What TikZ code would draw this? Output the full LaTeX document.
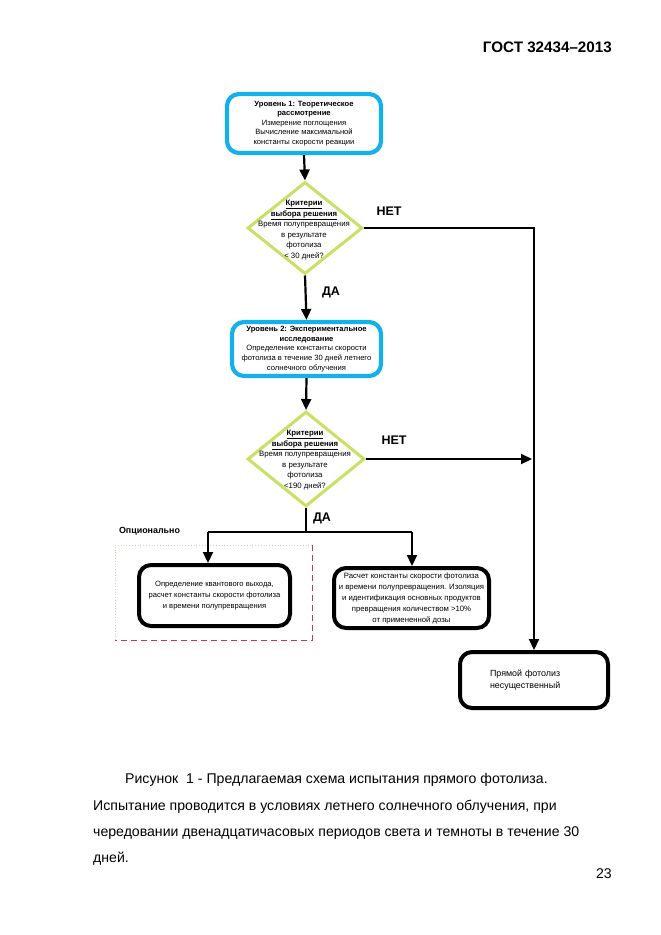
\documentclass[tikz,border=0pt]{standalone}
\usepackage{fontspec}
\setmainfont{Liberation Sans}
\usetikzlibrary{shapes.geometric,arrows.meta,positioning}
\definecolor{levelblue}{RGB}{20,176,236}
\definecolor{critgreen}{RGB}{200,224,100}
\definecolor{optred}{RGB}{200,55,70}
\definecolor{optfaint}{RGB}{215,212,190}
\tikzset{
  levelbox/.style={draw=levelblue, line width=4.2pt, rounded corners=12pt, align=center, inner sep=1pt,
    font=\fontsize{7.6}{9.6}\selectfont},
  critdiamond/.style={draw=critgreen, diamond, line width=3pt, inner sep=0pt},
  crittext/.style={align=center, inner sep=0pt, font=\fontsize{7.8}{10.6}\selectfont},
  resultbox/.style={draw=black, line width=4pt, rounded corners=12pt, align=center, inner sep=1pt,
    font=\fontsize{7.7}{11}\selectfont},
  flow/.style={line width=2.2pt, -{Triangle[width=10pt,length=11pt]}},
  link/.style={line width=2.2pt},
  answer/.style={font=\fontsize{12.5}{12.5}\selectfont\bfseries},
  captionline/.style={anchor=base west, inner sep=0pt, font=\fontsize{14.1}{14.1}\selectfont},
}
\begin{document}
\begin{tikzpicture}[x=1pt,y=-1pt]
  \fill[white] (0,0) rectangle (661,935);
  \useasboundingbox (0,0) rectangle (661,935);
  % page header
  \node[anchor=base east, inner sep=0pt, font=\fontsize{15.2}{15.2}\selectfont\bfseries] (header) at (612,52.5) {ГОСТ 32434--2013};

  % level 1 and first criterion
  \node[levelbox, minimum width=154pt, minimum height=59pt] (level1) at (304,123.5)
    {\textbf{Уровень 1: Теоретическое}\\\textbf{рассмотрение}\\Измерение поглощения\\Вычисление максимальной\\константы скорости реакции};
  \node[critdiamond, minimum width=115pt, minimum height=92pt] (crit1) at (305,228) {};
  \node[crittext] (crit1text) at (304,230)
    {\underline{\textbf{Критерии}}\\\underline{\textbf{выбора решения}}\\Время полупревращения\\в результате\\фотолиза\\< 30 дней?};

  % level 2 and second criterion
  \node[levelbox, minimum width=149pt, minimum height=54pt] (level2) at (306.5,349)
    {\textbf{Уровень 2: Экспериментальное}\\\textbf{исследование}\\Определение константы скорости\\фотолиза в течение 30 дней летнего\\солнечного облучения};
  \node[critdiamond, minimum width=117pt, minimum height=95pt] (crit2) at (306,459) {};
  \node[crittext] (crit2text) at (305,460)
    {\underline{\textbf{Критерии}}\\\underline{\textbf{выбора решения}}\\Время полупревращения\\в результате\\фотолиза\\<190 дней?};

  % outcomes
  \node[resultbox, minimum width=151pt, minimum height=61pt, font=\fontsize{7.6}{11.3}\selectfont] (quantum) at (214.5,595.5)
    {Определение квантового выхода,\\расчет константы скорости фотолиза\\и времени полупревращения};
  \node[resultbox, minimum width=155pt, minimum height=60pt, font=\fontsize{7.75}{11}\selectfont] (products) at (411.5,598)
    {Расчет константы скорости фотолиза\\и времени полупревращения. Изоляция\\и идентификация основных продуктов\\превращения количеством >10\%\\от примененной дозы};
  \node[resultbox, align=left, text width=88pt, minimum width=148pt, minimum height=56pt,
    font=\fontsize{8.9}{11.5}\selectfont] (minor) at (534,680)
    {Прямой фотолиз\\несущественный};

  % optional area
  \node[inner sep=0pt, font=\fontsize{8.9}{8.9}\selectfont\bfseries] (optional) at (149.5,531) {Опционально};
  \draw[optfaint, line width=0.8pt, dotted] (115,640) -- (115,545) -- (312,545);
  \draw[optred, line width=1pt, dash pattern=on 6pt off 4pt] (312,545) -- (312,640) -- (115,640);

  % connectors
  \draw[flow] (level1.south) -- (crit1.north);
  \draw[flow] (crit1.east) -| (minor.north);
  \node[answer] (no1) at (389,211) {НЕТ};
  \draw[flow] (crit1.south) -- (level2.north);
  \node[answer] (yes1) at (331,292) {ДА};
  \draw[flow] (level2.south) -- (crit2.north);
  \draw[flow, shorten >=2pt] (crit2.east) -- (crit2.east -| minor.north);
  \node[answer] (no2) at (394,440) {НЕТ};
  \coordinate (splitL) at (208,532);
  \coordinate (splitR) at (412,532);
  \draw[link] (crit2.south) -- (crit2.south |- splitL);
  \draw[link] (splitL) -- (splitR);
  \draw[flow] (splitL) -- (splitL |- quantum.north);
  \draw[flow] (splitR) -- (splitR |- products.north);
  \node[answer] (yes2) at (322,518) {ДА};

  % caption
  \node[captionline] (cap1) at (125,783) {Рисунок~~1 - Предлагаемая схема испытания прямого фотолиза.};
  \node[captionline] (cap2) at (93,810) {Испытание проводится в условиях летнего солнечного облучения, при};
  \node[captionline] (cap3) at (93,836) {чередовании двенадцатичасовых периодов света и темноты в течение 30};
  \node[captionline] (cap4) at (93,862) {дней.};
  \node[anchor=base east, inner sep=0pt, font=\fontsize{14.1}{14.1}\selectfont] (pagenum) at (612,878) {23};
\end{tikzpicture}
\end{document}
